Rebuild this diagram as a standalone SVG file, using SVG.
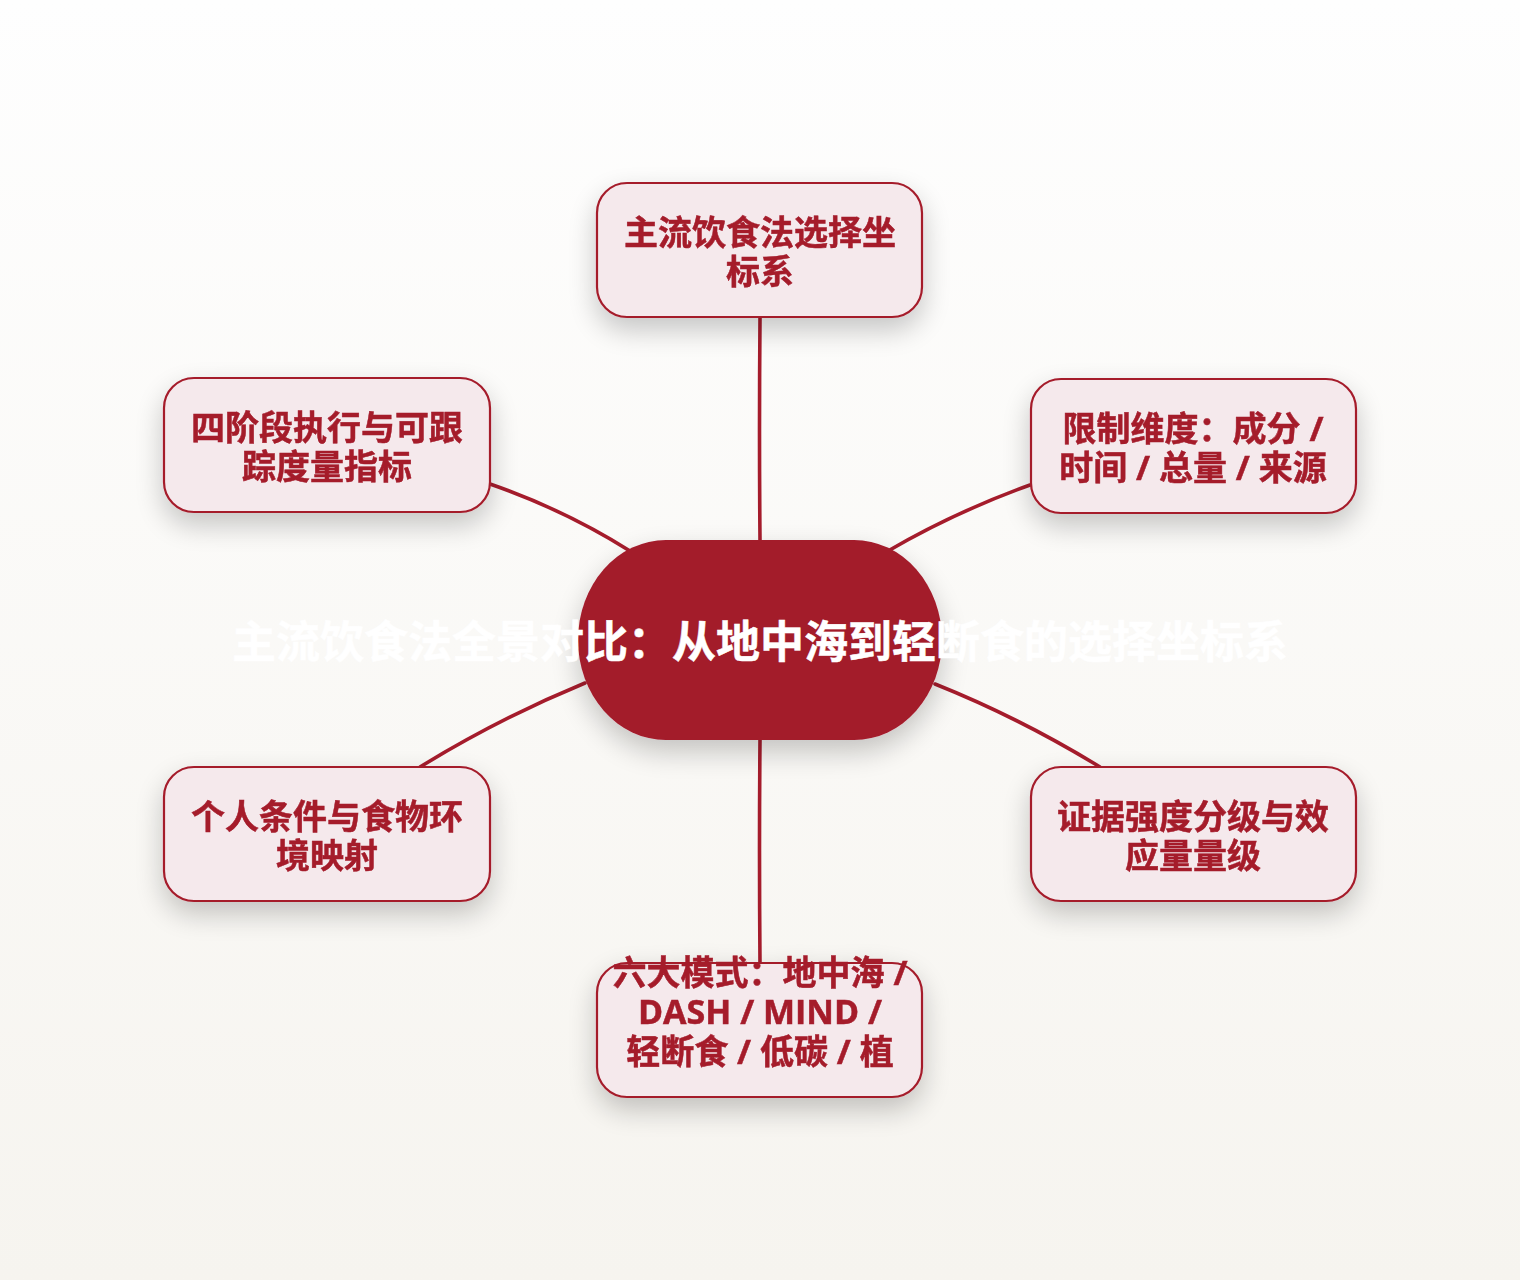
<svg xmlns="http://www.w3.org/2000/svg" width="1520" height="1280" viewBox="0 0 1520 1280">
<defs>
<linearGradient id="bg" x1="0" y1="0" x2="0" y2="1">
<stop offset="0" stop-color="#fefefe"/>
<stop offset="1" stop-color="#f6f4ef"/>
</linearGradient>
<filter id="sh" x="-30%" y="-30%" width="160%" height="170%">
<feGaussianBlur in="SourceAlpha" stdDeviation="14"/>
<feOffset dy="12" result="b"/>
<feComponentTransfer><feFuncA type="linear" slope="0.22"/></feComponentTransfer>
<feMerge><feMergeNode/><feMergeNode in="SourceGraphic"/></feMerge>
</filter>
<style>
.box{fill:#f5e9ec;stroke:#a51c2c;stroke-width:2.2}
.lbl{font-family:"Open Sans","Noto Sans CJK SC",sans-serif;font-weight:700;font-size:34px;fill:#a51c2c;stroke:#a51c2c;stroke-width:0.5;text-anchor:middle}
.conn{fill:none;stroke:#a51c2c;stroke-width:3.6;stroke-linecap:round}
.ctr{fill:#a31a2b}
.ctxt{font-family:"Open Sans","Noto Sans CJK SC",sans-serif;font-weight:700;font-size:44px;fill:#ffffff;stroke:#ffffff;stroke-width:0.5;text-anchor:middle}
</style>
</defs>
<rect width="1520" height="1280" fill="url(#bg)"/>
<g id="connectors">
<path class="conn" d="M760 318 Q759 430 760 540"/>
<path class="conn" d="M888 551 Q955 512 1030 485"/>
<path class="conn" d="M630 551 Q565 510 490 484"/>
<path class="conn" d="M585 683 Q500 718 420 767"/>
<path class="conn" d="M935 684 Q1020 718 1100 767"/>
<path class="conn" d="M760 740 Q759 850 760 963"/>
</g>
<g id="center" filter="url(#sh)">
<rect class="ctr" x="578" y="540" width="364" height="200" rx="88" ry="100"/>
</g>
<g id="n-top" filter="url(#sh)">
<rect class="box" x="597" y="183" width="325" height="134" rx="30"/>
<text class="lbl" x="760" y="245">主流饮食法选择坐</text>
<text class="lbl" x="760" y="284">标系</text>
</g>
<g id="n-right-top" filter="url(#sh)">
<rect class="box" x="1031" y="379" width="325" height="134" rx="30"/>
<text class="lbl" x="1193" y="441">限制维度：成分 /</text>
<text class="lbl" x="1193" y="480">时间 / 总量 / 来源</text>
</g>
<g id="n-left-top" filter="url(#sh)">
<rect class="box" x="164" y="378" width="326" height="134" rx="30"/>
<text class="lbl" x="327" y="440">四阶段执行与可跟</text>
<text class="lbl" x="327" y="479">踪度量指标</text>
</g>
<g id="n-left-bottom" filter="url(#sh)">
<rect class="box" x="164" y="767" width="326" height="134" rx="30"/>
<text class="lbl" x="327" y="829">个人条件与食物环</text>
<text class="lbl" x="327" y="868">境映射</text>
</g>
<g id="n-right-bottom" filter="url(#sh)">
<rect class="box" x="1031" y="767" width="325" height="134" rx="30"/>
<text class="lbl" x="1193" y="829">证据强度分级与效</text>
<text class="lbl" x="1193" y="868">应量量级</text>
</g>
<g id="n-bottom" filter="url(#sh)">
<rect class="box" x="597" y="963" width="325" height="134" rx="30"/>
<text class="lbl" x="760" y="985">六大模式：地中海 /</text>
<text class="lbl" x="760" y="1024">DASH / MIND /</text>
<text class="lbl" x="760" y="1064">轻断食 / 低碳 / 植</text>
</g>
<g id="center-label">
<text class="ctxt" x="760" y="658">主流饮食法全景对比：从地中海到轻断食的选择坐标系</text>
</g>
</svg>
